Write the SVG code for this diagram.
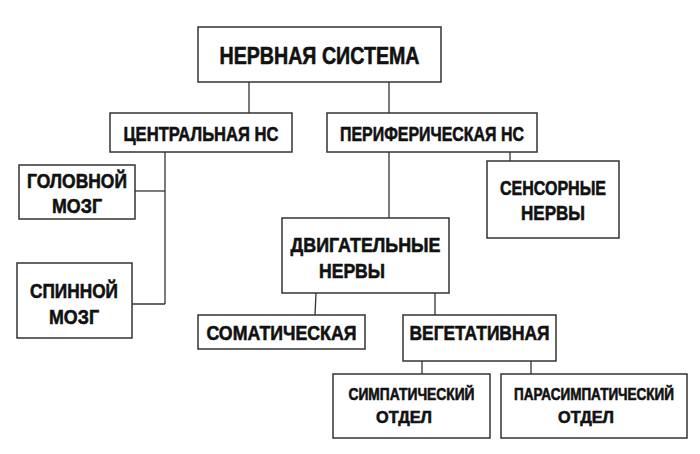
<svg xmlns="http://www.w3.org/2000/svg" width="700" height="454" viewBox="0 0 700 454">
<style>
rect{fill:#fff;stroke:#333;stroke-width:1.5}
text{font-family:"Liberation Sans",Arial,sans-serif;font-weight:bold;fill:#111;stroke:#111;stroke-width:0.6;text-anchor:middle}
.c line{stroke:#333;stroke-width:1.3}
</style>
<rect x="0" y="0" width="700" height="454" style="stroke:none"/>
<g class="c" id="connectors">
<line x1="249" y1="82" x2="249" y2="113"/>
<line x1="389" y1="82" x2="389" y2="113"/>
<line x1="165" y1="152" x2="165" y2="304"/>
<line x1="135" y1="191" x2="165" y2="191"/>
<line x1="132" y1="304" x2="165" y2="304"/>
<line x1="389" y1="152" x2="389" y2="218"/>
<line x1="510" y1="152" x2="510" y2="161"/>
<line x1="316" y1="293" x2="315" y2="315"/>
<line x1="435" y1="293" x2="435" y2="315"/>
<line x1="422" y1="361" x2="422" y2="374"/>
<line x1="531" y1="361" x2="531" y2="374"/>
</g>
<g id="n1"><rect x="198" y="27" width="243" height="55"/><text x="319.5" y="64" font-size="24" textLength="200" lengthAdjust="spacingAndGlyphs">НЕРВНАЯ СИСТЕМА</text></g>
<g id="n2"><rect x="110" y="113" width="182" height="39"/><text x="201" y="141" font-size="21" textLength="155" lengthAdjust="spacingAndGlyphs">ЦЕНТРАЛЬНАЯ НС</text></g>
<g id="n3"><rect x="327" y="113" width="210" height="39"/><text x="432" y="141" font-size="21" textLength="184" lengthAdjust="spacingAndGlyphs">ПЕРИФЕРИЧЕСКАЯ НС</text></g>
<g id="n4"><rect x="19" y="165" width="116" height="54"/><text x="77" y="188" font-size="21" textLength="100" lengthAdjust="spacingAndGlyphs">ГОЛОВНОЙ</text><text x="77" y="213" font-size="21" textLength="50" lengthAdjust="spacingAndGlyphs">МОЗГ</text></g>
<g id="n5"><rect x="17" y="263" width="115" height="75"/><text x="74" y="298" font-size="21" textLength="88" lengthAdjust="spacingAndGlyphs">СПИННОЙ</text><text x="74" y="324" font-size="21" textLength="50" lengthAdjust="spacingAndGlyphs">МОЗГ</text></g>
<g id="n6"><rect x="487" y="161" width="132" height="77"/><text x="553" y="195" font-size="21" textLength="106" lengthAdjust="spacingAndGlyphs">СЕНСОРНЫЕ</text><text x="553" y="220" font-size="21" textLength="64" lengthAdjust="spacingAndGlyphs">НЕРВЫ</text></g>
<g id="n7"><rect x="282" y="218" width="167" height="75"/><text x="365.5" y="252" font-size="21" textLength="150" lengthAdjust="spacingAndGlyphs">ДВИГАТЕЛЬНЫЕ</text><text x="352" y="278" font-size="21" textLength="66" lengthAdjust="spacingAndGlyphs">НЕРВЫ</text></g>
<g id="n8"><rect x="198" y="315" width="167" height="34"/><text x="281.5" y="340" font-size="21" textLength="150" lengthAdjust="spacingAndGlyphs">СОМАТИЧЕСКАЯ</text></g>
<g id="n9"><rect x="403" y="315" width="153" height="46"/><text x="479.5" y="340" font-size="21" textLength="140" lengthAdjust="spacingAndGlyphs">ВЕГЕТАТИВНАЯ</text></g>
<g id="n10"><rect x="333" y="374" width="157" height="64"/><text x="411.5" y="400" font-size="17" textLength="126" lengthAdjust="spacingAndGlyphs">СИМПАТИЧЕСКИЙ</text><text x="404" y="423" font-size="17" textLength="56" lengthAdjust="spacingAndGlyphs">ОТДЕЛ</text></g>
<g id="n11"><rect x="501" y="374" width="186" height="64"/><text x="594" y="400" font-size="16" textLength="160" lengthAdjust="spacingAndGlyphs">ПАРАСИМПАТИЧЕСКИЙ</text><text x="586" y="423" font-size="17" textLength="56" lengthAdjust="spacingAndGlyphs">ОТДЕЛ</text></g>
</svg>
